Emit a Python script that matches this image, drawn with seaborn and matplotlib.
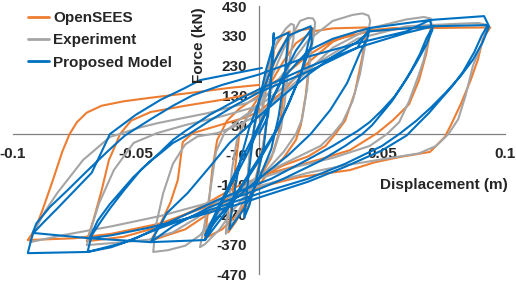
import matplotlib
matplotlib.use("Agg")
import matplotlib.pyplot as plt
import seaborn as sns
import pandas as pd

sns.set_theme(style="white")
plt.rcParams['font.family'] = ['Liberation Sans', 'DejaVu Sans']

series_names = ["OpenSEES", "Experiment", "Proposed Model"]
series_colors = ["#ED7D31", "#A5A5A5", "#0070C0"]

x_ticks = [-0.1, -0.05, 0, 0.05, 0.1]
x_tick_labels = ["-0.1", "-0.05", "0", "0.05", "0.1"]
y_ticks = [-470, -370, -270, -170, -70, 30, 130, 230, 330, 430]
y_tick_labels = [str(v) for v in y_ticks]

# (displacement m, force kN)
opensees_points = [
    (0.000, 0), (0.002, 110), (0.004, 210), (0.006, 275),
    (0.005, 190), (0.0035, 60), (0.001, -70), (-0.002, -170), (-0.004, -235), (-0.006, -270),
    (-0.005, -180), (-0.0035, -50), (-0.001, 60), (0.002, 170), (0.004, 240),
    (0.007, 300), (0.0095, 330), (0.0125, 345),
    (0.011, 230), (0.0095, 100), (0.008, 0), (0.005, -80), (0.0, -150), (-0.005, -225),
    (-0.0095, -295), (-0.0125, -330),
    (-0.011, -220), (-0.0095, -100), (-0.008, 0), (-0.004, 75), (0.0, 125), (0.004, 195),
    (0.008, 275), (0.012, 330),
    (0.016, 348), (0.022, 355),
    (0.0205, 250), (0.019, 130), (0.017, 30), (0.015, -20), (0.01, -80), (0.005, -120),
    (0.0, -170), (-0.005, -230), (-0.01, -280), (-0.015, -320), (-0.022, -350),
    (-0.0205, -240), (-0.019, -120), (-0.017, -20), (-0.013, 45), (-0.008, 85), (0.0, 130),
    (0.005, 175), (0.01, 245), (0.015, 305), (0.022, 345),
    (0.03, 355), (0.044, 358),
    (0.042, 260), (0.039, 140), (0.035, 45), (0.031, 0), (0.027, -40), (0.02, -75),
    (0.01, -105), (0.0, -145), (-0.01, -205), (-0.02, -265), (-0.03, -320), (-0.044, -358),
    (-0.040, -300), (-0.036, -230), (-0.033, -154), (-0.031, -27), (-0.027, 3), (-0.02, 20),
    (-0.016, 30), (-0.005, 57), (0.0, 75), (0.01, 145), (0.02, 240), (0.03, 310), (0.04, 345),
    (0.055, 356), (0.07, 358),
    (0.068, 270), (0.065, 180), (0.061, 100), (0.0545, 47), (0.048, 3), (0.037, -54),
    (0.024, -87), (0.0045, -131), (-0.01, -180), (-0.025, -250), (-0.04, -310),
    (-0.055, -345), (-0.07, -360),
    (-0.067, -280), (-0.064, -190), (-0.061, -87), (-0.0585, -40), (-0.0565, 0), (-0.052, 45),
    (-0.044, 74), (-0.03, 95), (-0.015, 115), (0.0, 140), (0.01, 195), (0.02, 265),
    (0.03, 315), (0.045, 345), (0.06, 355),
    (0.08, 357), (0.094, 358),
    (0.091, 320), (0.089, 250), (0.086, 180), (0.082, 100), (0.078, 30), (0.0755, -10),
    (0.0695, -60), (0.0573, -77), (0.047, -95), (0.037, -121), (0.0167, -144), (0.0, -178),
    (-0.02, -240), (-0.04, -300), (-0.06, -335), (-0.075, -350), (-0.094, -356),
    (-0.091, -320), (-0.088, -255), (-0.084, -160), (-0.08, -60), (-0.077, 0), (-0.074, 40),
    (-0.07, 72), (-0.064, 95), (-0.055, 110), (-0.044, 122), (-0.028, 138), (-0.012, 155),
    (0.0, 165),
]

experiment_points = [
    (0.0, 0), (0.002, 130), (0.004, 230), (0.006, 290), (0.005, 200), (0.0035, 60),
    (0.001, -80), (-0.002, -180), (-0.004, -240), (-0.006, -280), (-0.005, -180),
    (-0.0035, -40), (-0.001, 60), (0.002, 180), (0.005, 270),
    (0.008, 320), (0.011, 355), (0.013, 370), (0.0142, 366), (0.014, 320), (0.012, 230),
    (0.0105, 110), (0.009, 20), (0.006, -60), (0.0, -140), (-0.006, -220), (-0.01, -290),
    (-0.0135, -335),
    (-0.0125, -250), (-0.011, -120), (-0.009, -20), (-0.005, 55), (0.0, 105), (0.005, 190),
    (0.01, 285), (0.015, 355),
    (0.0167, 380), (0.02, 390), (0.022, 388), (0.0228, 375), (0.0225, 345), (0.021, 270),
    (0.0195, 150), (0.0175, 50), (0.015, 0), (0.01, -60), (0.0, -150), (-0.01, -250),
    (-0.016, -320), (-0.022, -370), (-0.024, -380),
    (-0.0225, -320), (-0.02, -200), (-0.0175, -60), (-0.014, 5), (-0.007, 55), (0.0, 95),
    (0.01, 205), (0.02, 315), (0.03, 380), (0.038, 400), (0.042, 405), (0.0445, 398),
    (0.0452, 380), (0.0445, 345), (0.043, 290), (0.041, 200), (0.038, 110), (0.034, 40),
    (0.03, 0), (0.025, -40), (0.015, -80), (0.0, -140), (-0.01, -200), (-0.018, -280),
    (-0.024, -340), (-0.03, -375), (-0.037, -390), (-0.043, -396),
    (-0.042, -310), (-0.039, -200), (-0.035, -100), (-0.03, -35), (-0.025, -8), (-0.017, 3),
    (-0.01, 25), (0.0, 65), (0.015, 175), (0.03, 290), (0.045, 355), (0.06, 385),
    (0.067, 393), (0.0698, 388), (0.0702, 365), (0.069, 320), (0.067, 250), (0.065, 200),
    (0.061, 110), (0.057, 40), (0.052, 0),
    (0.045, -40), (0.03, -80), (0.015, -110), (0.0, -150), (-0.015, -220), (-0.025, -280),
    (-0.035, -330), (-0.045, -355), (-0.058, -365), (-0.07, -373),
    (-0.068, -310), (-0.065, -232), (-0.059, -121), (-0.051, -30), (-0.0415, 3), (-0.03, 30),
    (-0.015, 60), (0.0, 95), (0.02, 220), (0.04, 320), (0.06, 362), (0.08, 370),
    (0.089, 373), (0.092, 368), (0.0922, 345), (0.0905, 300),
    (0.087, 230), (0.084, 130), (0.081, 50), (0.077, 0),
    (0.072, -40), (0.065, -65), (0.05, -85), (0.035, -105), (0.02, -130), (0.0, -175),
    (-0.02, -230), (-0.04, -275), (-0.06, -310), (-0.08, -340), (-0.093, -363),
    (-0.091, -320), (-0.087, -260), (-0.082, -198), (-0.0715, -87), (-0.0606, -10),
    (-0.048, 23), (-0.041, 37), (-0.021, 70), (-0.005, 104), (0.005, 140),
]

proposed_points = [
    (0.0, 0), (0.0037, 60), (0.0055, 250), (0.006, 339), (0.0045, 150), (0.002, -40),
    (-0.001, -150), (-0.004, -240), (-0.006, -280), (-0.004, -120), (-0.002, 20), (0.0, 110),
    (0.003, 220), (0.0065, 320),
    (0.009, 330), (0.012, 340), (0.0105, 200), (0.008, 60), (0.005, -50), (0.0, -150),
    (-0.006, -250), (-0.012, -320), (-0.0105, -220), (-0.008, -100), (-0.004, 20), (0.0, 110),
    (0.006, 240), (0.012, 330),
    (0.016, 345), (0.021, 362), (0.0215, 305), (0.016, 180), (0.0073, 13), (0.0, -90),
    (-0.008, -190), (-0.015, -280), (-0.022, -356),
    (-0.019, -300), (-0.015, -230), (-0.01, -150), (-0.005, -70), (0.0, 20), (0.005, 110),
    (0.01, 200), (0.015, 280), (0.0215, 355),
    (0.017, 200), (0.012, 100), (0.006, 0), (0.0, -80), (-0.01, -210), (-0.022, -340),
    (-0.015, -220), (-0.008, -100), (0.0, 30), (0.01, 190), (0.02, 280),
    (0.03, 320), (0.04, 345), (0.045, 356),
    (0.044, 320), (0.041, 272), (0.0358, 171), (0.029, 81), (0.021, 0), (0.012, -70),
    (0.0, -150), (-0.01, -220), (-0.018, -290), (-0.022, -356), (-0.044, -363),
    (-0.0374, -265), (-0.029, -198), (-0.02, -110), (-0.012, -30), (-0.008, 0), (0.0, 60),
    (0.01, 130), (0.02, 200), (0.03, 260), (0.04, 310), (0.045, 345), (0.0707, 362),
    (0.068, 320), (0.0655, 270), (0.062, 215), (0.058, 160), (0.054, 110), (0.05, 70),
    (0.046, 30), (0.042, 0), (0.035, -40), (0.025, -90), (0.01, -150), (0.0, -185),
    (-0.02, -245), (-0.035, -310), (-0.044, -363), (-0.069, -350),
    (-0.0655, -290), (-0.0606, -235), (-0.051, -144), (-0.044, -90), (-0.040, -64),
    (-0.035, -30), (-0.029, -3), (-0.02, 45), (-0.01, 95), (0.0, 140), (0.02, 210),
    (0.04, 290), (0.045, 356), (0.0695, 383), (0.0705, 350),
    (0.068, 300), (0.064, 240), (0.06, 185), (0.055, 125), (0.05, 80), (0.045, 40),
    (0.04, 10), (0.037, -5), (0.03, -40), (0.02, -85), (0.005, -150), (-0.015, -215),
    (-0.035, -290), (-0.05, -350), (-0.06, -380), (-0.0697, -396),
    (-0.068, -340), (-0.064, -290), (-0.0606, -250), (-0.055, -190), (-0.048, -120),
    (-0.04, -60), (-0.035, -20), (-0.03, 10), (-0.02, 65), (-0.01, 110), (0.0, 150),
    (0.02, 225), (0.04, 290), (0.06, 340), (0.0707, 362), (0.093, 366),
    (0.0905, 330), (0.0875, 275), (0.083, 210), (0.0785, 160), (0.0736, 114), (0.069, 70),
    (0.065, 37), (0.060, -5), (0.05, -55), (0.035, -110), (0.02, -160), (0.005, -200),
    (-0.01, -240), (-0.025, -275), (-0.045, -315), (-0.06, -340), (-0.069, -350),
    (-0.092, -332),
    (-0.0905, -300), (-0.085, -245), (-0.078, -190), (-0.07, -125), (-0.061, -54),
    (-0.0545, -5), (-0.044, 50), (-0.035, 95), (-0.027, 130), (-0.015, 165), (0.0, 200),
    (0.02, 260), (0.04, 305), (0.06, 345), (0.0695, 383), (0.0915, 396), (0.0935, 362),
    (0.091, 310), (0.087, 250), (0.082, 195), (0.076, 140), (0.070, 90), (0.064, 45),
    (0.057, 0), (0.05, -40), (0.035, -100), (0.02, -150), (0.0, -200), (-0.02, -255),
    (-0.04, -315), (-0.055, -365), (-0.0697, -396), (-0.094, -400),
    (-0.092, -335), (-0.088, -300), (-0.082, -250), (-0.075, -190), (-0.068, -130),
    (-0.0606, 0), (-0.05, 65), (-0.04, 115), (-0.03, 155), (-0.024, 181), (0.0012, 222),
]

all_points = [opensees_points, experiment_points, proposed_points]

fig = plt.figure(figsize=(5.16, 2.81), dpi=100)
ax = fig.add_axes([13 / 516, 7 / 281, 492 / 516, 268 / 281])

for name, color, pts in zip(series_names, series_colors, all_points):
    df = pd.DataFrame(pts, columns=["disp", "force"])
    sns.lineplot(data=df, x="disp", y="force", sort=False, estimator=None,
                 color=color, linewidth=1.5, ax=ax, label=name)

ax.set_xlim(-0.1, 0.1)
ax.set_ylim(-470, 430)
for side in ["top", "right"]:
    ax.spines[side].set_visible(False)
ax.spines["left"].set_position(("data", 0))
ax.spines["bottom"].set_position(("data", 0))
for side in ["left", "bottom"]:
    ax.spines[side].set_color("#808080")
    ax.spines[side].set_linewidth(0.9)
    ax.spines[side].set_zorder(0.5)

ax.set_xticks(x_ticks)
ax.set_xticklabels(x_tick_labels)
ax.set_yticks(y_ticks)
ax.set_yticklabels(y_tick_labels)
ax.tick_params(axis="x", length=0, pad=9.5, labelsize=11)
ax.tick_params(axis="y", length=0, pad=8.5, labelsize=11)
for lbl in ax.get_xticklabels() + ax.get_yticklabels():
    lbl.set_fontweight("bold")
ax.set_xlabel("")
ax.set_ylabel("")
ax.grid(False)

fig.text(199 / 516, 1 - 45 / 281, "Force (kN)", rotation=90, ha="center", va="center",
         fontsize=11, fontweight="bold")
fig.text(444 / 516, 1 - 185 / 281, "Displacement (m)", ha="center", va="center",
         fontsize=11, fontweight="bold")

leg = ax.legend(loc="upper left", bbox_to_anchor=(28 / 516, 1 - 11 / 281),
                bbox_transform=fig.transFigure, frameon=False,
                prop={"size": 11, "weight": "bold"}, handlelength=1.4,
                handletextpad=0.25, labelspacing=0.55, borderpad=0, borderaxespad=0)
for line in leg.get_lines():
    line.set_linewidth(2.0)

fig.savefig("out.png", dpi=100)
